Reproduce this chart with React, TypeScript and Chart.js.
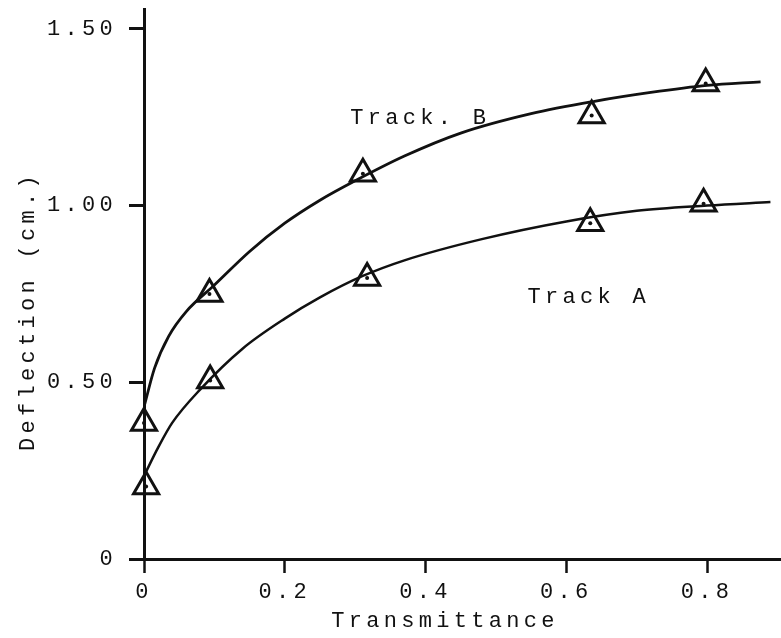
import React, { useEffect, useRef } from "react";
import { Chart, registerables } from "chart.js";

Chart.register(...registerables);

// Measured points (triangles with a dot)
const TRACK_A_X = [0.003, 0.094, 0.317, 0.634, 0.795];
const TRACK_A_Y = [0.205, 0.505, 0.795, 0.95, 1.005];
const TRACK_B_X = [0.0, 0.093, 0.311, 0.636, 0.798];
const TRACK_B_Y = [0.385, 0.75, 1.09, 1.255, 1.345];

// Hand-drawn fitted curves
const CURVE_A_X = [0, 0.02, 0.04, 0.08, 0.14, 0.2, 0.25, 0.31, 0.37, 0.48, 0.6, 0.7, 0.8, 0.89];
const CURVE_A_Y = [0.235, 0.315, 0.385, 0.48, 0.595, 0.68, 0.74, 0.8, 0.845, 0.905, 0.955, 0.985, 1.0, 1.01];
const CURVE_B_X = [0, 0.015, 0.035, 0.06, 0.1, 0.15, 0.2, 0.25, 0.3, 0.37, 0.45, 0.55, 0.64, 0.72, 0.8, 0.876];
const CURVE_B_Y = [0.43, 0.54, 0.63, 0.7, 0.775, 0.87, 0.95, 1.015, 1.07, 1.14, 1.205, 1.26, 1.295, 1.32, 1.34, 1.35];

const X_TICKS = [0, 0.2, 0.4, 0.6, 0.8];
const X_TICK_LABELS = ["0", "0.2", "0.4", "0.6", "0.8"];
const Y_TICKS = [0, 0.5, 1.0, 1.5];
const Y_TICK_LABELS = ["0", "0.50", "1.00", "1.50"];

const X_TITLE = "Transmittance";
const Y_TITLE = "Deflection (cm.)";

const CURVE_LABELS = ["Track A", "Track. B"];
const CURVE_LABEL_X = [0.545, 0.293];
const CURVE_LABEL_Y = [0.74, 1.246];

const X_MIN = 0;
const X_MAX = 0.905;
const Y_MIN = 0;
const Y_MAX = 1.556;

const INK = "#111111";
const FONT_FAMILY = "'Liberation Mono', 'DejaVu Sans Mono', monospace";
const FONT_SIZE = 22;
const LETTER_SPACING = "4.3px";

function zip(xs: number[], ys: number[]) {
  return xs.map((x, i) => ({ x, y: ys[i] }));
}

const spacingPlugin = {
  id: "spacing",
  beforeLayout(chart: any) {
    chart.ctx.letterSpacing = LETTER_SPACING;
  },
  beforeDraw(chart: any) {
    chart.ctx.letterSpacing = LETTER_SPACING;
  },
};

const textPlugin = {
  id: "texts",
  afterDraw(chart: any) {
    const ctx = chart.ctx as CanvasRenderingContext2D;
    const xs = chart.scales.x;
    const ys = chart.scales.y;
    const area = chart.chartArea;
    ctx.save();
    (ctx as any).letterSpacing = LETTER_SPACING;
    ctx.fillStyle = INK;
    ctx.font = `${FONT_SIZE}px ${FONT_FAMILY}`;
    ctx.textBaseline = "middle";
    ctx.textAlign = "left";
    CURVE_LABELS.forEach((t, i) => {
      ctx.fillText(t, xs.getPixelForValue(CURVE_LABEL_X[i]), ys.getPixelForValue(CURVE_LABEL_Y[i]));
    });
    // axis titles
    ctx.textAlign = "center";
    ctx.fillText(X_TITLE, area.left + 301, area.bottom + 62);
    ctx.translate(28, (area.top + area.bottom) / 2 + 27);
    ctx.rotate(-Math.PI / 2);
    ctx.fillText(Y_TITLE, 0, 0);
    ctx.restore();
  },
};

const triangleStyle = {
  pointStyle: "triangle",
  pointRadius: 14.5,
  pointBorderWidth: 3,
  borderColor: INK,
  backgroundColor: "rgba(0,0,0,0)",
  clip: false,
};

const dotStyle = {
  pointStyle: "circle",
  pointRadius: 2,
  borderWidth: 0,
  backgroundColor: INK,
  clip: false,
};

export default function App() {
  const ref = useRef<HTMLCanvasElement | null>(null);
  useEffect(() => {
    if (!ref.current) return;
    const chart = new Chart(ref.current, {
      type: "scatter",
      data: {
        datasets: [
          {
            type: "line",
            label: "Track B curve",
            data: zip(CURVE_B_X, CURVE_B_Y),
            borderColor: INK,
            borderWidth: 2.8,
            pointRadius: 0,
            tension: 0.4,
            cubicInterpolationMode: "monotone",
            fill: false,
          } as any,
          {
            type: "line",
            label: "Track A curve",
            data: zip(CURVE_A_X, CURVE_A_Y),
            borderColor: INK,
            borderWidth: 2.5,
            pointRadius: 0,
            tension: 0.4,
            cubicInterpolationMode: "monotone",
            fill: false,
          } as any,
          { label: "Track B", data: zip(TRACK_B_X, TRACK_B_Y), ...triangleStyle } as any,
          { label: "Track A", data: zip(TRACK_A_X, TRACK_A_Y), ...triangleStyle } as any,
          { label: "Track B dots", data: zip(TRACK_B_X, TRACK_B_Y), ...dotStyle } as any,
          { label: "Track A dots", data: zip(TRACK_A_X, TRACK_A_Y), ...dotStyle } as any,
        ],
      },
      options: {
        animation: false,
        responsive: false,
        devicePixelRatio: 1,
        layout: { autoPadding: false, padding: { top: 9, right: 0, left: 0, bottom: 0 } },
        plugins: {
          legend: { display: false },
          tooltip: { enabled: false },
          title: { display: false },
        },
        scales: {
          x: {
            type: "linear",
            min: X_MIN,
            max: X_MAX,
            afterBuildTicks: (s: any) => {
              s.ticks = X_TICKS.map((v) => ({ value: v }));
            },
            afterFit: (s: any) => {
              s.height = 79;
              s.paddingLeft = 0;
              s.paddingRight = 0;
            },
            ticks: {
              autoSkip: false,
              maxRotation: 0,
              padding: 6,
              color: INK,
              font: { family: FONT_FAMILY, size: FONT_SIZE },
              callback: (v: any) => {
                const i = X_TICKS.findIndex((t) => Math.abs(t - Number(v)) < 1e-9);
                return i >= 0 ? X_TICK_LABELS[i] : "";
              },
            },
            grid: {
              display: true,
              drawOnChartArea: false,
              drawTicks: true,
              tickLength: 14,
              tickWidth: 2.5,
              color: INK,
            },
            border: { display: true, color: INK, width: 3 },
          },
          y: {
            type: "linear",
            min: Y_MIN,
            max: Y_MAX,
            afterBuildTicks: (s: any) => {
              s.ticks = Y_TICKS.map((v) => ({ value: v }));
            },
            afterFit: (s: any) => {
              s.width = 144;
              s.paddingTop = 0;
              s.paddingBottom = 0;
            },
            ticks: {
              autoSkip: false,
              padding: 12,
              color: INK,
              font: { family: FONT_FAMILY, size: FONT_SIZE },
              callback: (v: any) => {
                const i = Y_TICKS.findIndex((t) => Math.abs(t - Number(v)) < 1e-9);
                return i >= 0 ? Y_TICK_LABELS[i] : "";
              },
            },
            grid: {
              display: true,
              drawOnChartArea: false,
              drawTicks: true,
              tickLength: 15,
              tickWidth: 3,
              color: INK,
            },
            border: { display: true, color: INK, width: 3 },
          },
        },
      },
      plugins: [spacingPlugin, textPlugin],
    } as any);
    return () => chart.destroy();
  }, []);
  return (
    <div style={{ position: "fixed", left: 0, top: 0, width: 781, height: 638, background: "#fff" }}>
      <canvas ref={ref} width={781} height={638} style={{ width: 781, height: 638, display: "block" }} />
    </div>
  );
}
